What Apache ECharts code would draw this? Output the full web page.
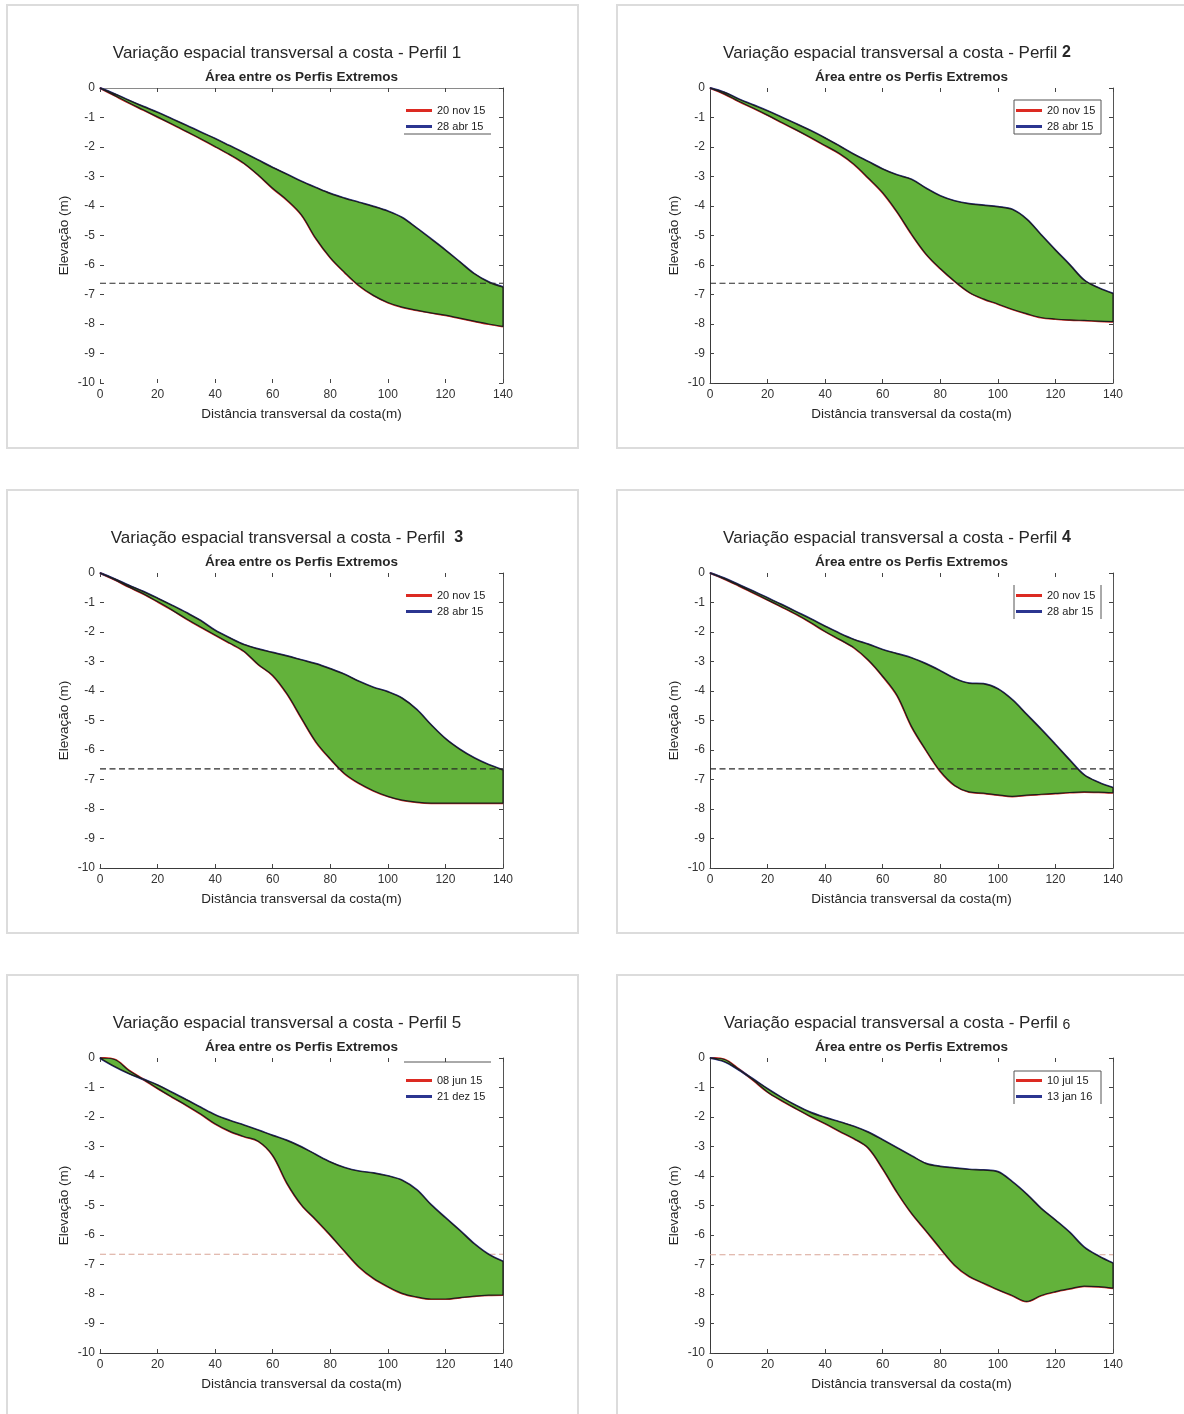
<!DOCTYPE html>
<html>
<head>
<meta charset="utf-8">
<script src="https://cdn.jsdelivr.net/npm/echarts@6/dist/echarts.min.js"></script>
<style>
  html, body { margin: 0; padding: 0; background: #ffffff; }
  #chart { width: 1184px; height: 1414px; }
</style>
</head>
<body>
<div id="chart"></div>
<script>
// Distância transversal da costa (m) – pontos de leitura dos perfis
const distancia = [0, 5, 10, 15, 20, 25, 30, 35, 40, 45, 50, 55, 60, 65, 70,
                   75, 80, 85, 90, 95, 100, 105, 110, 115, 120, 125, 130, 135, 140];

// Perfil 1
const perfil1_20nov15 = [0, -0.25, -0.5, -0.74, -0.98, -1.22, -1.47, -1.72, -1.98, -2.25, -2.55, -2.95, -3.4, -3.8, -4.3,
                         -5.1, -5.75, -6.25, -6.7, -7.03, -7.27, -7.43, -7.53, -7.62, -7.7, -7.8, -7.9, -8.0, -8.08];
const perfil1_28abr15 = [0, -0.2, -0.42, -0.63, -0.83, -1.05, -1.27, -1.5, -1.72, -1.96, -2.2, -2.45, -2.7, -2.93, -3.17,
                         -3.38, -3.58, -3.74, -3.88, -4.02, -4.18, -4.4, -4.75, -5.12, -5.5, -5.9, -6.3, -6.58, -6.75];
// Perfil 2
const perfil2_20nov15 = [0, -0.2, -0.45, -0.68, -0.92, -1.17, -1.42, -1.68, -1.95, -2.22, -2.58, -3.05, -3.55, -4.2, -4.95,
                         -5.62, -6.12, -6.55, -6.92, -7.15, -7.32, -7.5, -7.65, -7.78, -7.83, -7.86, -7.88, -7.9, -7.92];
const perfil2_28abr15 = [0, -0.15, -0.38, -0.58, -0.78, -1.0, -1.22, -1.45, -1.7, -1.97, -2.25, -2.5, -2.75, -2.95, -3.1,
                         -3.4, -3.66, -3.83, -3.93, -3.98, -4.03, -4.12, -4.45, -4.98, -5.5, -6.0, -6.52, -6.78, -6.97];
// Perfil 3
const perfil3_20nov15 = [0, -0.22, -0.47, -0.7, -0.97, -1.25, -1.55, -1.83, -2.1, -2.37, -2.65, -3.1, -3.47, -4.1, -4.92,
                         -5.72, -6.3, -6.8, -7.13, -7.38, -7.57, -7.7, -7.77, -7.8, -7.8, -7.8, -7.8, -7.8, -7.8];
const perfil3_28abr15 = [0, -0.2, -0.42, -0.63, -0.86, -1.1, -1.35, -1.62, -1.95, -2.2, -2.43, -2.58, -2.7, -2.82, -2.95,
                         -3.08, -3.25, -3.44, -3.68, -3.88, -4.03, -4.25, -4.63, -5.15, -5.62, -5.98, -6.27, -6.5, -6.68];
// Perfil 4
const perfil4_20nov15 = [0, -0.2, -0.43, -0.67, -0.91, -1.15, -1.4, -1.68, -1.98, -2.25, -2.53, -2.95, -3.5, -4.15, -5.2,
                         -6.0, -6.72, -7.2, -7.42, -7.46, -7.52, -7.57, -7.53, -7.5, -7.47, -7.44, -7.42, -7.43, -7.45];
const perfil4_28abr15 = [0, -0.18, -0.4, -0.62, -0.85, -1.08, -1.32, -1.56, -1.81, -2.05, -2.26, -2.42, -2.6, -2.74, -2.88,
                         -3.08, -3.32, -3.58, -3.74, -3.76, -3.93, -4.3, -4.8, -5.3, -5.82, -6.35, -6.85, -7.1, -7.28];
// Perfil 5
const perfil5_08jun15 = [0, -0.05, -0.42, -0.72, -1.03, -1.32, -1.6, -1.9, -2.23, -2.48, -2.66, -2.82, -3.3, -4.25, -4.98,
                         -5.48, -6.0, -6.55, -7.08, -7.47, -7.75, -7.98, -8.1, -8.17, -8.17, -8.12, -8.07, -8.04, -8.03];
const perfil5_21dez15 = [0, -0.28, -0.52, -0.72, -0.92, -1.17, -1.42, -1.68, -1.93, -2.12, -2.28, -2.45, -2.63, -2.8, -3.02,
                         -3.28, -3.53, -3.72, -3.84, -3.9, -4.0, -4.15, -4.47, -4.98, -5.42, -5.85, -6.3, -6.66, -6.9];
// Perfil 6
const perfil6_10jul15 = [0, -0.05, -0.38, -0.75, -1.15, -1.45, -1.72, -1.98, -2.22, -2.48, -2.73, -3.05, -3.75, -4.55, -5.26,
                         -5.85, -6.45, -7.02, -7.4, -7.63, -7.85, -8.05, -8.25, -8.05, -7.92, -7.82, -7.73, -7.75, -7.8];
const perfil6_13jan16 = [0, -0.12, -0.4, -0.72, -1.05, -1.35, -1.62, -1.85, -2.02, -2.17, -2.32, -2.52, -2.78, -3.05, -3.32,
                         -3.58, -3.68, -3.73, -3.78, -3.8, -3.86, -4.2, -4.62, -5.1, -5.5, -5.92, -6.42, -6.72, -6.96];

// Profundidade de fechamento (linha tracejada), m
const profundidadeFechamento = [-6.62, -6.62, -6.64, -6.64, -6.65, -6.67];

// Datas dos perfis (legenda) e número de cada perfil
const datasPerfis = [
  ['20 nov 15', '28 abr 15'],
  ['20 nov 15', '28 abr 15'],
  ['20 nov 15', '28 abr 15'],
  ['20 nov 15', '28 abr 15'],
  ['08 jun 15', '21 dez 15'],
  ['10 jul 15', '13 jan 16']
];
const perfisInferior = [perfil1_20nov15, perfil2_20nov15, perfil3_20nov15, perfil4_20nov15, perfil5_08jun15, perfil6_10jul15];
const perfisSuperior = [perfil1_28abr15, perfil2_28abr15, perfil3_28abr15, perfil4_28abr15, perfil5_21dez15, perfil6_13jan16];
const numerosPerfil = ['1', '2', '3', '4', '5', '6'];

// Eixos
const xTicks = { min: 0, max: 140, interval: 20 };
const yTicks = { min: -10, max: 0, interval: 1 };

// ---------- layout & styling ----------
const FONT = "'Liberation Sans', Arial, Helvetica, sans-serif";
const TEXT = '#262626';
const plotLefts = [100, 710];
const plotTops = [88, 573, 1058];
const plotW = 403, plotH = 295;
const boxLefts = [7, 617];
const boxTops = [5, 490, 975];
const COLOR_RED = '#dc2a22';
const COLOR_BLUE = '#2b3590';
const COLOR_FILL = '#63b23b';
const SMOOTH = 0.35;

// per-panel appearance (frame sides drawn, dash colour, digit style, legend frame sides)
const look = [
  { left: false, bottom: false, top: true,  dash: '#2a2a2a', dashOver: true,  digit: 'n', gap: ' ',  legendSides: ['bottom'], legendTop: 12 },
  { left: true,  bottom: true,  top: false, dash: '#2a2a2a', dashOver: true,  digit: 'b', gap: ' ',  legendSides: ['top', 'bottom', 'left', 'right'], legendTop: 12 },
  { left: false, bottom: true,  top: false, dash: '#2a2a2a', dashOver: true,  digit: 'b', gap: '  ', legendSides: [], legendTop: 12 },
  { left: true,  bottom: true,  top: false, dash: '#2a2a2a', dashOver: true,  digit: 'b', gap: ' ',  legendSides: ['left', 'right'], legendTop: 12 },
  { left: false, bottom: true,  top: false, dash: '#d9a596', dashOver: false, digit: 'n', gap: ' ',  legendSides: ['top'], legendTop: 4 },
  { left: true,  bottom: true,  top: false, dash: '#d9a596', dashOver: false, digit: 's', gap: ' ',  legendSides: ['top', 'left', 'right'], legendTop: 13 }
];

// Bezier segments following the same smoothing rule the line series uses,
// so the filled band lines up with the drawn profiles.
function smoothSegments(pts, smooth) {
  const segs = [];
  let cpx0 = pts[0][0], cpy0 = pts[0][1];
  for (let k = 1; k < pts.length; k++) {
    const [prevX, prevY] = pts[k - 1];
    const [x, y] = pts[k];
    let cpx1 = x, cpy1 = y, nextCpx0 = x, nextCpy0 = y;
    if (k < pts.length - 1) {
      const [nextX, nextY] = pts[k + 1];
      let vx = nextX - prevX, vy = nextY - prevY;
      const lenPrev = Math.hypot(x - prevX, y - prevY);
      const lenNext = Math.hypot(nextX - x, nextY - y);
      const ratio = lenNext / (lenNext + lenPrev);
      cpx1 = x - vx * smooth * (1 - ratio);
      cpy1 = y - vy * smooth * (1 - ratio);
      nextCpx0 = x + vx * smooth * ratio;
      nextCpy0 = y + vy * smooth * ratio;
      nextCpx0 = Math.max(Math.min(nextCpx0, Math.max(nextX, x)), Math.min(nextX, x));
      nextCpy0 = Math.max(Math.min(nextCpy0, Math.max(nextY, y)), Math.min(nextY, y));
      vx = nextCpx0 - x; vy = nextCpy0 - y;
      cpx1 = x - vx * lenPrev / lenNext;
      cpy1 = y - vy * lenPrev / lenNext;
      cpx1 = Math.max(Math.min(cpx1, Math.max(prevX, x)), Math.min(prevX, x));
      cpy1 = Math.max(Math.min(cpy1, Math.max(prevY, y)), Math.min(prevY, y));
      vx = x - cpx1; vy = y - cpy1;
      nextCpx0 = x + vx * lenNext / lenPrev;
      nextCpy0 = y + vy * lenNext / lenPrev;
    }
    segs.push({ from: [prevX, prevY], c1: [cpx0, cpy0], c2: [cpx1, cpy1], to: [x, y] });
    cpx0 = nextCpx0; cpy0 = nextCpy0;
  }
  return segs;
}
const f = v => v.toFixed(2);
const pt2 = p => f(p[0]) + ' ' + f(p[1]);

const grids = [], xAxes = [], yAxes = [], series = [], legends = [], graphics = [];

for (let i = 0; i < 6; i++) {
  const col = i % 2, row = Math.floor(i / 2);
  const pl = plotLefts[col], pt = plotTops[row];
  const lk = look[i];

  grids.push({ left: pl, top: pt, width: plotW, height: plotH, containLabel: false });

  const tickStyle = { show: true, inside: true, length: 4, lineStyle: { color: '#444', width: 1 } };
  xAxes.push({
    type: 'value', gridIndex: i, position: 'bottom', min: xTicks.min, max: xTicks.max, interval: xTicks.interval,
    axisLine: { show: lk.bottom, onZero: false, lineStyle: { color: '#3a3a3a', width: 1 } },
    axisTick: tickStyle, splitLine: { show: false },
    axisLabel: { color: '#333', fontSize: 12, fontFamily: FONT, margin: 6 },
    name: 'Distância transversal da costa(m)', nameLocation: 'middle', nameGap: 24,
    nameTextStyle: { color: TEXT, fontSize: 13.5, fontFamily: FONT }
  });
  xAxes.push({
    type: 'value', gridIndex: i, position: 'top', min: xTicks.min, max: xTicks.max, interval: xTicks.interval,
    axisLine: { show: lk.top, onZero: false, lineStyle: { color: '#8a8a8a', width: 1 } },
    axisTick: tickStyle, axisLabel: { show: false }, splitLine: { show: false }
  });
  yAxes.push({
    type: 'value', gridIndex: i, position: 'left', min: yTicks.min, max: yTicks.max, interval: yTicks.interval,
    axisLine: { show: lk.left, onZero: false, lineStyle: { color: '#3a3a3a', width: 1 } },
    axisTick: tickStyle, splitLine: { show: false },
    axisLabel: { color: '#333', fontSize: 12, fontFamily: FONT, margin: 5 },
    name: 'Elevação (m)', nameLocation: 'middle', nameRotate: 90, nameGap: 29,
    nameTextStyle: { color: TEXT, fontSize: 13.5, fontFamily: FONT }
  });
  yAxes.push({
    type: 'value', gridIndex: i, position: 'right', min: yTicks.min, max: yTicks.max, interval: yTicks.interval,
    axisLine: { show: true, onZero: false, lineStyle: { color: '#555', width: 1 } },
    axisTick: tickStyle, axisLabel: { show: false }, splitLine: { show: false }
  });

  const inferior = perfisInferior[i], superior = perfisSuperior[i];
  const [nomeInf, nomeSup] = datasPerfis[i];
  const depth = profundidadeFechamento[i];

  // closure depth line
  series.push({
    type: 'line', xAxisIndex: 2 * i, yAxisIndex: 2 * i, silent: true,
    data: [[xTicks.min, depth], [xTicks.max, depth]],
    showSymbol: false, z: lk.dashOver ? 6 : 1,
    lineStyle: { color: lk.dash, width: 1.1, type: [6, 3.5] }
  });
  // the two extreme profiles
  series.push({
    type: 'line', name: nomeInf, xAxisIndex: 2 * i, yAxisIndex: 2 * i, silent: true,
    data: distancia.map((d, k) => [d, inferior[k]]), showSymbol: false, smooth: SMOOTH, z: 2,
    color: COLOR_RED, lineStyle: { color: COLOR_RED, width: 2.2 }
  });
  series.push({
    type: 'line', name: nomeSup, xAxisIndex: 2 * i, yAxisIndex: 2 * i, silent: true,
    data: distancia.map((d, k) => [d, superior[k]]), showSymbol: false, smooth: SMOOTH, z: 2,
    color: COLOR_BLUE, lineStyle: { color: COLOR_BLUE, width: 2.2 }
  });
  // area between the extreme profiles
  series.push({
    type: 'custom', xAxisIndex: 2 * i, yAxisIndex: 2 * i, silent: true, z: 3,
    data: [[distancia[0], superior[0]]],
    renderItem: function (params, api) {
      const top = distancia.map((d, k) => api.coord([d, superior[k]]));
      const bottom = distancia.map((d, k) => api.coord([d, inferior[k]]));
      const topSegs = smoothSegments(top, SMOOTH);
      const botSegs = smoothSegments(bottom, SMOOTH).reverse();
      let path = 'M ' + pt2(top[0]);
      topSegs.forEach(s => { path += ' C ' + pt2(s.c1) + ' ' + pt2(s.c2) + ' ' + pt2(s.to); });
      path += ' L ' + pt2(bottom[bottom.length - 1]);
      botSegs.forEach(s => { path += ' C ' + pt2(s.c2) + ' ' + pt2(s.c1) + ' ' + pt2(s.from); });
      path += ' Z';
      return {
        type: 'path',
        shape: { pathData: path },
        style: { fill: COLOR_FILL, stroke: '#1d1d1d', lineWidth: 1.2, lineJoin: 'round' }
      };
    }
  });

  legends.push({
    data: [nomeInf, nomeSup], orient: 'vertical', left: pl + 306, top: pt + 17,
    padding: 0, itemGap: 5, itemWidth: 26, itemHeight: 3, icon: 'rect', selectedMode: false,
    textStyle: { color: '#222', fontSize: 11, fontFamily: FONT }
  });

  // panel frame
  graphics.push({
    type: 'rect', silent: true,
    shape: { x: boxLefts[col], y: boxTops[row], width: col === 0 ? 571 : 600, height: 443 },
    style: { fill: 'none', stroke: '#dcdcdc', lineWidth: 2 }
  });

  // legend frame sides
  const L = pl + 304, R = pl + 391, T = pt + lk.legendTop, B = pt + 46;
  const sides = { top: [L, T, R, T], bottom: [L, B, R, B], left: [L, T, L, B], right: [R, T, R, B] };
  lk.legendSides.forEach(s => {
    const c = sides[s];
    graphics.push({
      type: 'line', silent: true, shape: { x1: c[0], y1: c[1], x2: c[2], y2: c[3] },
      style: { stroke: '#555', lineWidth: 1 }
    });
  });

  // titles
  const digitRich = {
    n: { fontSize: 17, fontFamily: FONT, fill: TEXT },
    b: { fontSize: 16, fontWeight: 'bold', fontFamily: FONT, fill: TEXT },
    s: { fontSize: 14, fontFamily: FONT, fill: TEXT, padding: [5, 0, 0, 0] }
  };
  graphics.push({
    type: 'text', silent: true, x: pl + 187, y: boxTops[row] + 48,
    style: {
      text: '{t|Variação espacial transversal a costa - Perfil' + lk.gap + '}{' + lk.digit + '|' + numerosPerfil[i] + '}',
      align: 'center', verticalAlign: 'middle',
      rich: Object.assign({ t: { fontSize: 17, fontFamily: FONT, fill: TEXT } }, digitRich)
    }
  });
  graphics.push({
    type: 'text', silent: true, x: pl + plotW / 2, y: boxTops[row] + 72,
    style: {
      text: 'Área entre os Perfis Extremos', align: 'center', verticalAlign: 'middle',
      font: 'bold 13.5px ' + FONT, fill: TEXT
    }
  });
}

const chart = echarts.init(document.getElementById('chart'), null, { renderer: 'canvas' });
chart.setOption({
  animation: false,
  backgroundColor: '#ffffff',
  grid: grids,
  xAxis: xAxes,
  yAxis: yAxes,
  legend: legends,
  series: series,
  graphic: graphics
});
</script>
</body>
</html>
